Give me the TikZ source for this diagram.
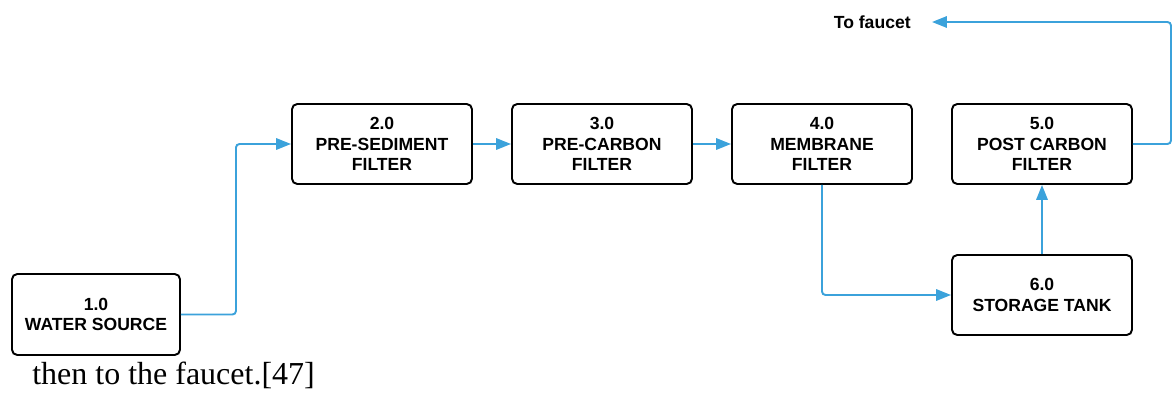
\documentclass[tikz,border=0pt]{standalone}
\usepackage{fontspec}
\setmainfont{Liberation Serif}
\setsansfont{Liberation Sans}
\usepackage{tikz}
\usetikzlibrary{shapes,arrows.meta,positioning,calc}
\definecolor{flowblue}{RGB}{59,162,219}

\begin{document}
\begin{tikzpicture}[
    stage/.style = {rectangle, draw, line width=1.1pt, rounded corners=3pt, minimum width=3.6cm, minimum height=1.6cm, align=center, font=\sffamily\bfseries\fontsize{10}{11.6}\selectfont},
    flow/.style = {draw=flowblue, line width=1.1pt, rounded corners=2pt, -{Triangle[length=8.5pt, width=6.5pt]}}
]
    \useasboundingbox (0,0) rectangle (23.44,7.84);

    % Source
    \node[stage, minimum width=3.36cm, minimum height=1.62cm] (source) at (1.92,1.55) {1.0\\WATER SOURCE};

    % Filters
    \node[stage] (sediment) at (7.64,4.96) {2.0\\PRE-SEDIMENT\\FILTER};
    \node[stage] (precarbon) at (12.04,4.96) {3.0\\PRE-CARBON\\FILTER};
    \node[stage] (membrane) at (16.44,4.96) {4.0\\MEMBRANE\\FILTER};
    \node[stage] (postcarbon) at (20.84,4.96) {5.0\\POST CARBON\\FILTER};

    % Tank
    \node[stage] (tank) at (20.84,1.94) {6.0\\STORAGE TANK};

    % Faucet
    \node[font=\sffamily\bfseries\fontsize{10}{12}\selectfont, anchor=east, inner sep=0pt] (faucet) at (18.22,7.4) {To faucet};

    % Arrows
    \draw[flow] (source.east) -- ++(1.1,0) |- (sediment.west);
    \draw[flow] (sediment) -- (precarbon);
    \draw[flow] (precarbon) -- (membrane);
    \draw[flow] (membrane.south) |- (tank.west);
    \draw[flow] (tank) -- (postcarbon);
    \draw[flow] (postcarbon.east) -- ++(0.76,0) |- ($(faucet.east)+(0.42,0)$);

    % Caption line
    \node[anchor=base west, inner sep=0pt, font=\fontsize{18.2}{20}\selectfont] (caption) at (0.64,0.16) {then to the faucet.[47]};

\end{tikzpicture}
\end{document}
